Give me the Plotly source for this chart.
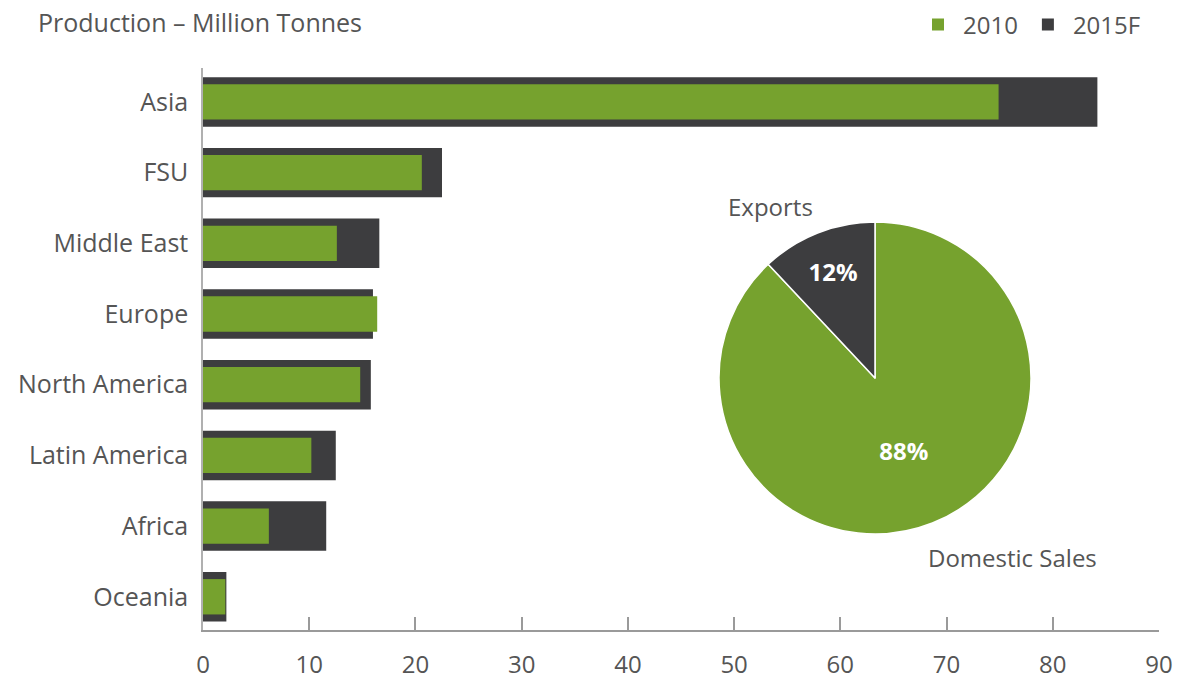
import plotly.graph_objects as go

regions = ["Asia", "FSU", "Middle East", "Europe", "North America", "Latin America", "Africa", "Oceania"]
prod_2010 = [74.9, 20.6, 12.6, 16.4, 14.8, 10.2, 6.2, 2.1]
prod_2015f = [84.2, 22.5, 16.6, 16.0, 15.8, 12.5, 11.6, 2.2]
x_ticks = [0, 10, 20, 30, 40, 50, 60, 70, 80, 90]

pie_labels = ["Domestic Sales", "Exports"]
pie_values = [88, 12]

GREEN = "#76A22E"
DARK = "#3D3D3F"
TXT = "#555555"
FONT = "Open Sans, DejaVu Sans, sans-serif"

W, H = 1182, 685
L, R, T, B = 203, 23, 68, 55
pw, ph = W - L - R, H - T - B

def px_x(x):
    return (x - L) / pw

def px_y(y):
    return (H - B - y) / ph

fig = go.Figure()
fig.add_trace(go.Bar(
    y=regions, x=prod_2015f, orientation="h", name="2015F",
    marker=dict(color=DARK, line=dict(width=0)), width=0.7,
))
fig.add_trace(go.Bar(
    y=regions, x=prod_2010, orientation="h", name="2010",
    marker=dict(color=GREEN, line=dict(width=0)), width=0.5,
))

cx0, cx1 = px_x(719), px_x(1031)
cy0, cy1 = px_y(534), px_y(222)
fig.add_trace(go.Pie(
    labels=pie_labels, values=pie_values, sort=False,
    direction="counterclockwise", rotation=0,
    marker=dict(colors=[GREEN, DARK], line=dict(color="white", width=1.5)),
    textinfo="percent", texttemplate="%{percent:.0%}",
    textposition="inside", insidetextorientation="horizontal",
    textfont=dict(color="white", size=24, family=FONT, weight="bold"),
    domain=dict(x=[cx0, cx1], y=[cy0, cy1]),
    showlegend=False, hoverinfo="label+percent",
))

fig.update_layout(
    width=W, height=H,
    margin=dict(l=L, r=R, t=T, b=B, autoexpand=False),
    barmode="overlay",
    plot_bgcolor="white", paper_bgcolor="white",
    font=dict(family=FONT, color=TXT, size=24),
    title=dict(text="Production – Million Tonnes", x=38 / W, xanchor="left",
               y=1 - 23 / H, yanchor="middle", xref="container", yref="container",
               font=dict(size=25, color=TXT, family=FONT)),
    legend=dict(orientation="h", x=px_x(1146), xanchor="right", y=px_y(25), yanchor="middle",
                traceorder="reversed", font=dict(size=24, color=TXT),
                itemwidth=40, bgcolor="rgba(0,0,0,0)"),
    xaxis=dict(range=[0, 90], tickvals=x_ticks, showgrid=False, zeroline=False,
               showline=True, linecolor="#9a9a9a", linewidth=1.5,
               ticks="inside", ticklen=13, tickcolor="#9a9a9a", tickwidth=1.5,
               ticklabelstandoff=12, tickfont=dict(size=24, color=TXT)),
    yaxis=dict(range=[7.47, -0.48], showgrid=False, zeroline=False,
               showline=True, linecolor="#b0b0b0", linewidth=1.5, ticks="",
               ticklabelstandoff=8, tickfont=dict(size=25, color=TXT)),
    annotations=[
        dict(text="Exports", x=px_x(770), y=px_y(206), xref="paper", yref="paper",
             xanchor="center", yanchor="middle",
             showarrow=False, font=dict(size=24, color=TXT)),
        dict(text="Domestic Sales", x=px_x(1012), y=px_y(557), xref="paper", yref="paper",
             xanchor="center", yanchor="middle",
             showarrow=False, font=dict(size=24, color=TXT)),
    ],
)

fig.write_html("out.html", config={"displayModeBar": False},
               post_script="document.body.style.margin='0';")
